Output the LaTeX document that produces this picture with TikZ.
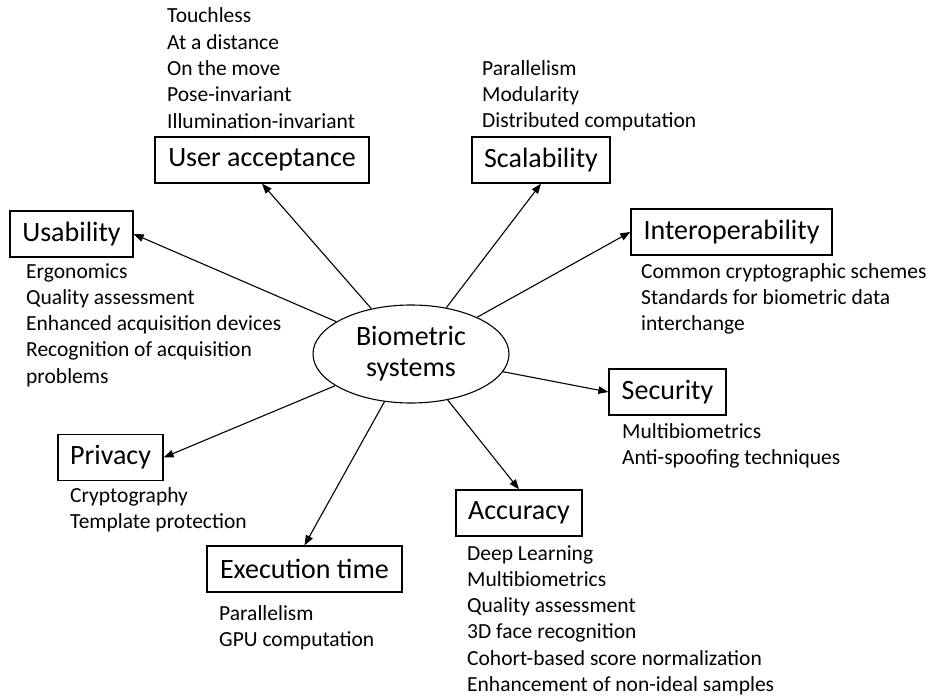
\documentclass[tikz,border=0pt]{standalone}
\usepackage{fontspec}
\setmainfont{Carlito}
\usetikzlibrary{shapes.geometric,arrows.meta}
\tikzset{
  topic/.style={draw, line width=1.3pt, rectangle, inner sep=0pt, minimum height=46pt,
    font=\fontsize{28}{32}\selectfont},
  items/.style={anchor=base west, align=left, inner sep=0pt,
    font=\fontsize{21.5}{26.3}\selectfont},
  arr/.style={line width=1.1pt, -{Triangle[length=10pt,width=7.5pt]}}
}
\begin{document}
\begin{tikzpicture}[x=1pt,y=-1pt]
\useasboundingbox (0,0) rectangle (935,698);
\node[draw, line width=1.1pt, ellipse, minimum width=196pt, minimum height=98pt, inner sep=0pt,
  align=center, font=\fontsize{28}{31}\selectfont] (bio) at (411,354) {Biometric\\systems};

\node[topic, minimum width=214pt] (ua) at (262,160) {User acceptance};
\node[topic, minimum width=123pt] (us) at (71.5,234) {Usability};
\node[topic, minimum width=138pt] (sc) at (541,160) {Scalability};
\node[topic, minimum width=201pt] (io) at (731.5,232) {Interoperability};
\node[topic, minimum width=117pt] (se) at (667.5,392) {Security};
\node[topic, minimum width=126pt] (ac) at (519,513) {Accuracy};
\node[topic, minimum width=105pt] (pr) at (110.5,457.5) {Privacy};
\node[topic, minimum width=195pt] (ex) at (304.5,569) {Execution time};

% anchor base = baseline of the last line
\node[items] (uaL) at (167,128.2) {Touchless\\At a distance\\On the move\\Pose-invariant\\Illumination-invariant};
\node[items] (scL) at (482,128) {Parallelism\\Modularity\\Distributed computation};
\node[items] (usL) at (26,383.2) {Ergonomics\\Quality assessment\\Enhanced acquisition devices\\Recognition of acquisition\\problems};
\node[items] (ioL) at (641,330.6) {Common cryptographic schemes\\Standards for biometric data\\interchange};
\node[items] (seL) at (622,464.3) {Multibiometrics\\Anti-spoofing techniques};
\node[items] (prL) at (70,528.3) {Cryptography\\Template protection};
\node[items] (exL) at (219,646.3) {Parallelism\\GPU computation};
\node[items] (acL) at (467,691.5) {Deep Learning\\Multibiometrics\\Quality assessment\\3D face recognition\\Cohort-based score normalization\\Enhancement of non-ideal samples};

\draw[arr] (bio) -- (ua.south);
\draw[arr] (bio) -- (us.east);
\draw[arr] (bio) -- (sc.south);
\draw[arr] (bio) -- (io.west);
\draw[arr] (bio) -- (se.west);
\draw[arr] (bio) -- (ac.north);
\draw[arr] (bio) -- (pr.east);
\draw[arr] (bio) -- (ex.north);
\end{tikzpicture}
\end{document}
